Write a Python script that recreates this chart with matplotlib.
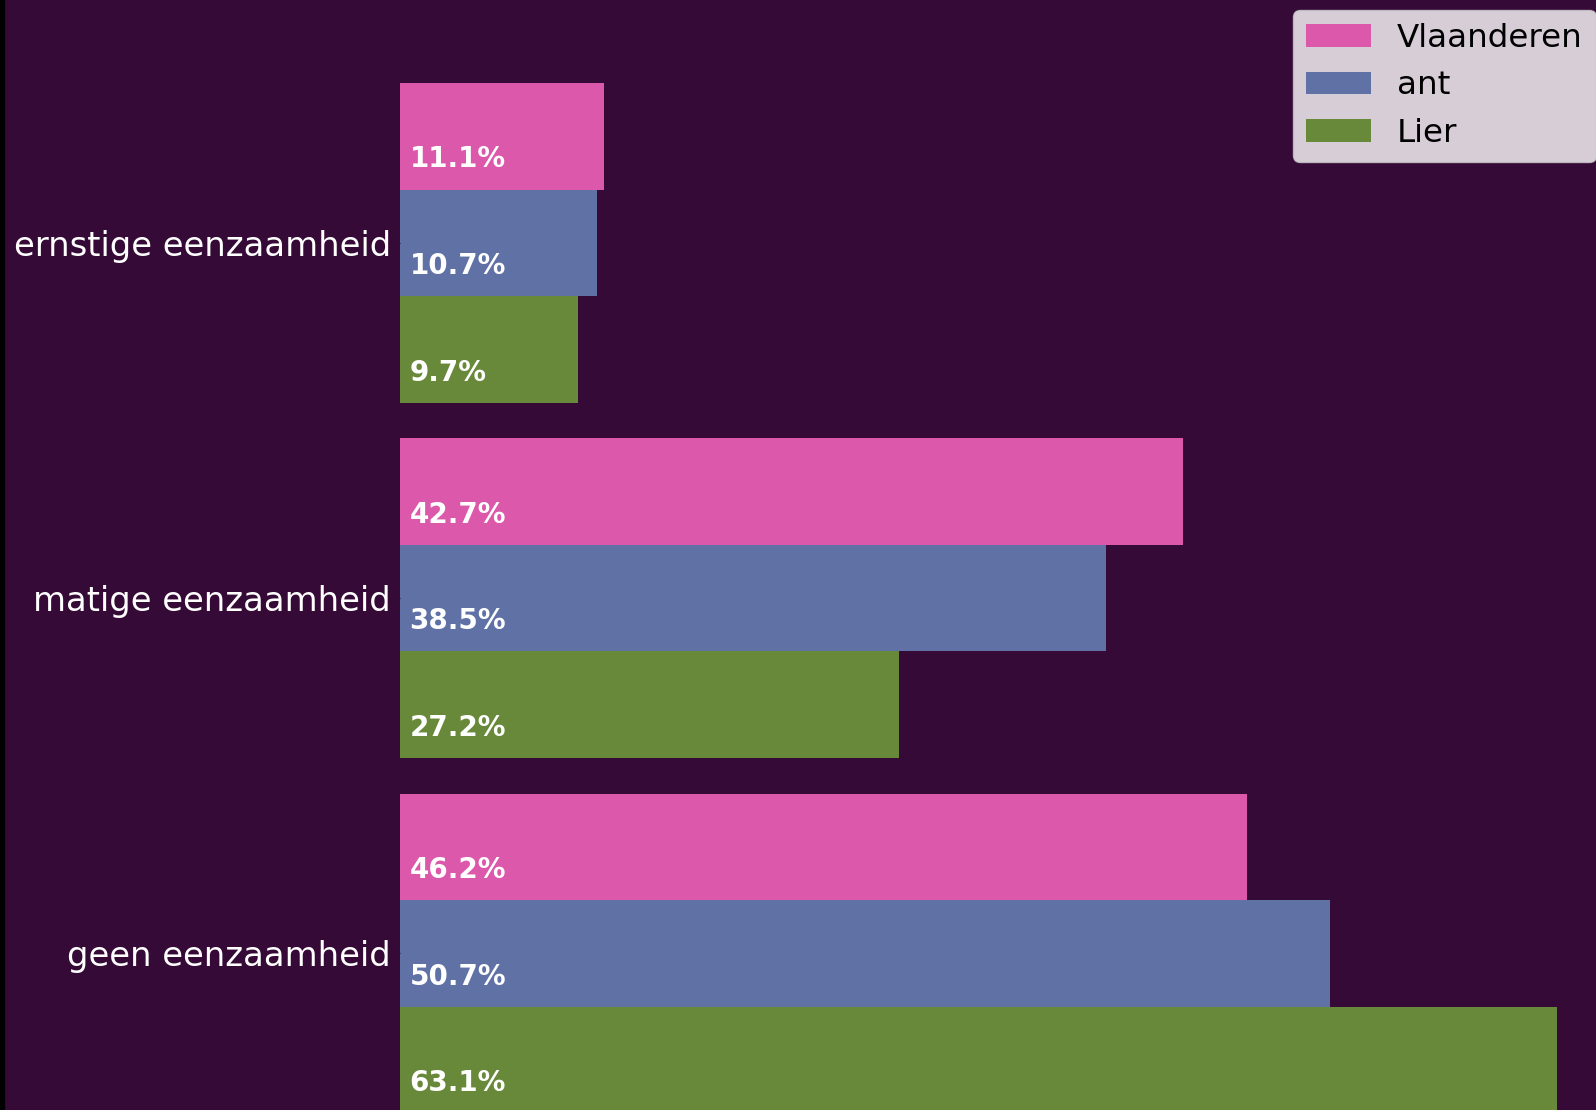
import matplotlib
matplotlib.use("Agg")
import matplotlib.pyplot as plt
import numpy as np
from matplotlib.patches import Rectangle

categories = ["geen eenzaamheid", "matige eenzaamheid", "ernstige eenzaamheid"]
series_names = ["Vlaanderen", "ant", "Lier"]
vlaanderen = [46.2, 42.7, 11.1]
ant = [50.7, 38.5, 10.7]
lier = [63.1, 27.2, 9.7]

colors = ["#dc58aa", "#6071a6", "#69893a"]
bg = "#360a37"

W, H = 1596, 1110
fig = plt.figure(figsize=(W / 100, H / 100), dpi=100, facecolor=bg)

# axes placed in pixel terms (the reference is a crop of a larger chart)
left_px, right_px = 400.5, 400.5 + 1214.5
top_px, bot_px = 31.4, 1164.8
ax = fig.add_axes([left_px / W, (H - bot_px) / H, (right_px - left_px) / W, (bot_px - top_px) / H])
ax.set_facecolor(bg)

# black strip at left edge
fig.patches.append(Rectangle((0, 0), 4.0 / W, 1, transform=fig.transFigure, color="black", zorder=10))

y = np.arange(len(categories))
h = 0.3
all_series = [vlaanderen, ant, lier]
offsets = [h, 0, -h]
for vals, name, c, off in zip(all_series, series_names, colors, offsets):
    ax.barh(y + off, vals, height=h, color=c, label=name)
    for yi, v in zip(y, vals):
        ax.text(0.5, yi + off - 0.088, f"{v}%", color="white", fontsize=20,
                fontweight="bold", ha="left", va="baseline")

ax.set_xlim(0, 66.255)
ax.set_ylim(-0.595, 2.595)
ax.set_yticks(y)
ax.set_yticklabels(categories, fontsize=24.4, color="white")
ax.tick_params(axis="y", colors=bg, labelcolor="white", length=3.5)
ax.xaxis.set_visible(False)
for s in ax.spines.values():
    s.set_visible(False)

leg = fig.legend(loc="upper left", bbox_to_anchor=(1293 / W, 1 - 10 / H),
                 bbox_transform=fig.transFigure, borderaxespad=0, fontsize=23.4,
                 facecolor="white", framealpha=0.8, edgecolor="#cccccc")

fig.savefig("out.png", dpi=100, facecolor=bg)
